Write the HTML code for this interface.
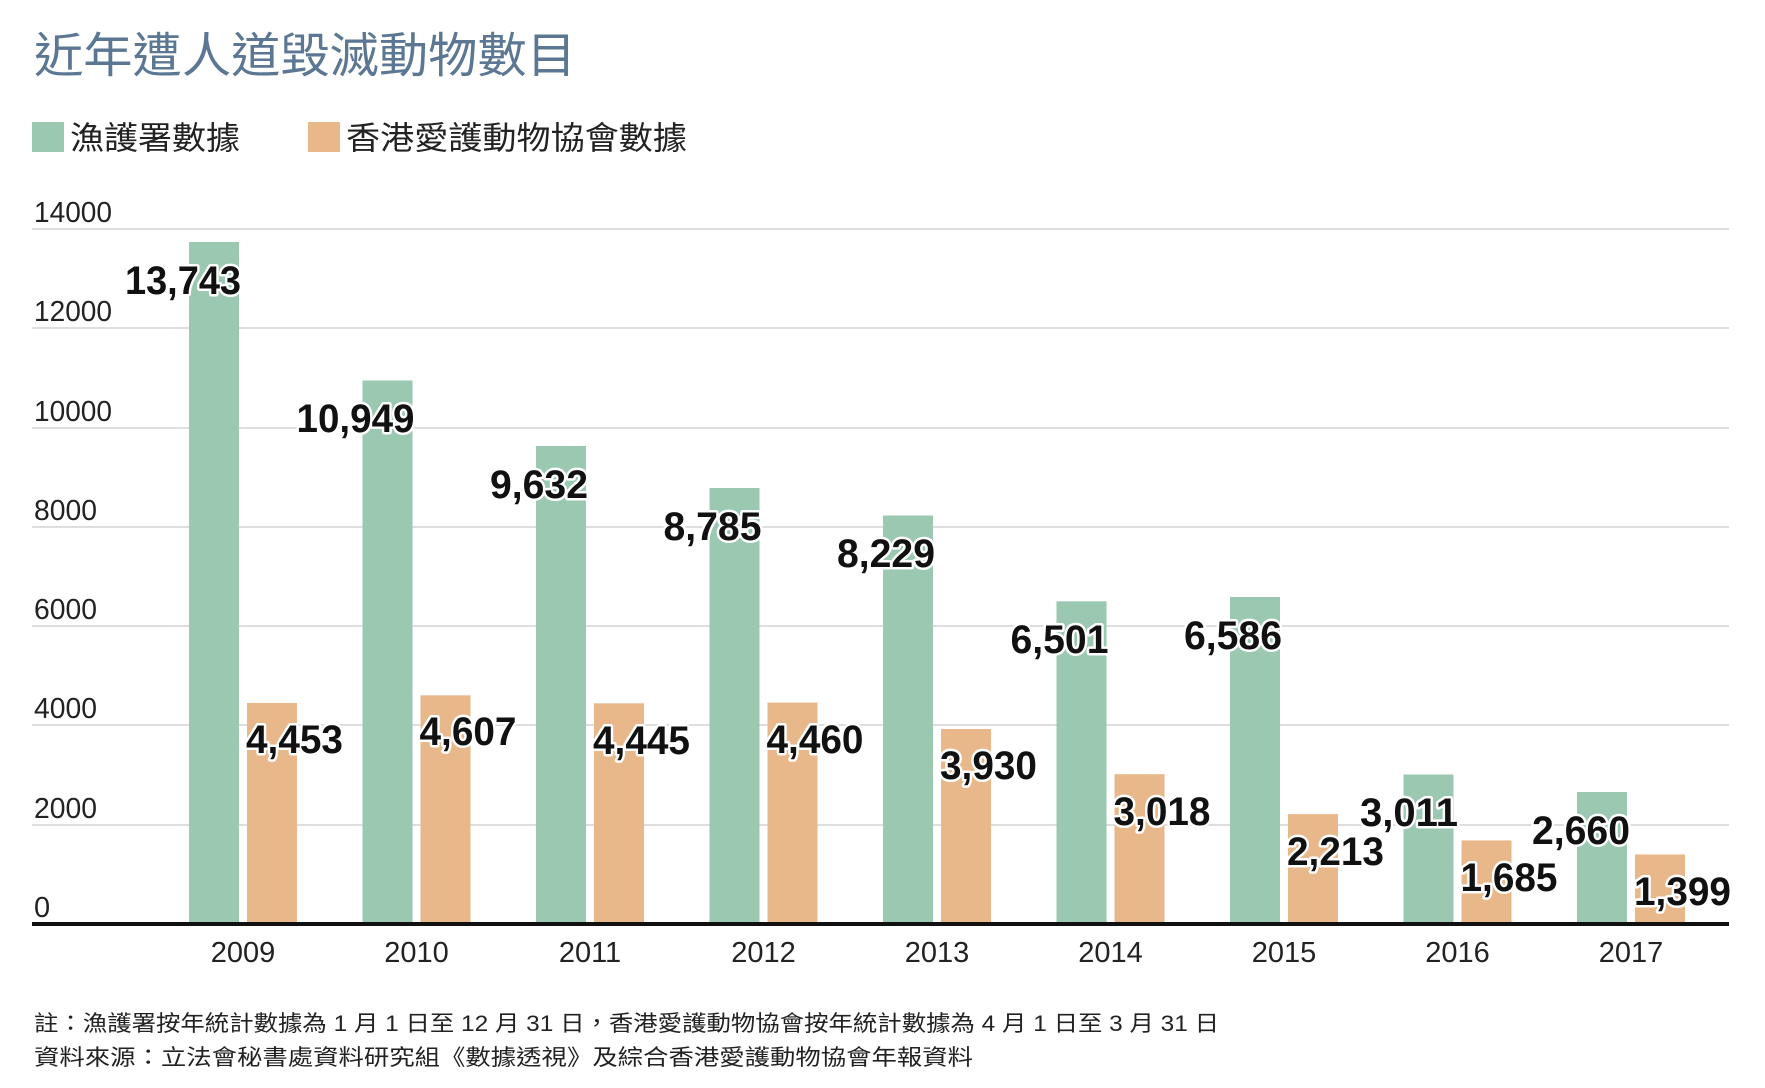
<!DOCTYPE html>
<html><head><meta charset="utf-8"><style>
html,body{margin:0;padding:0;background:#fff;}
svg{display:block;}
.cjk{font-family:"Liberation Sans","Noto Sans CJK TC",sans-serif;}
.num{font-family:"Liberation Sans Narrow","Liberation Sans",sans-serif;}
.lab{font-family:"Liberation Sans Narrow","Liberation Sans",sans-serif;font-weight:bold;font-size:40px;fill:#111;stroke:#fff;stroke-width:5px;paint-order:stroke;stroke-linejoin:round;}
</style></head><body>
<svg width="1765" height="1088" viewBox="0 0 1765 1088" xmlns="http://www.w3.org/2000/svg">
<text class="cjk" x="34" y="72" font-size="48" fill="#5b7793" textLength="542" lengthAdjust="spacingAndGlyphs">近年遭人道毀滅動物數目</text>
<rect x="32" y="122" width="32" height="30" fill="#9ac8b0"/>
<text class="cjk" x="70" y="149" font-size="32" fill="#222" textLength="170" lengthAdjust="spacingAndGlyphs">漁護署數據</text>
<rect x="308" y="122" width="32" height="30" fill="#e8b88a"/>
<text class="cjk" x="346" y="149" font-size="32" fill="#222" textLength="341" lengthAdjust="spacingAndGlyphs">香港愛護動物協會數據</text>
<g stroke="#dedede" stroke-width="2">
<line x1="32" x2="1729" y1="229" y2="229"/>
<line x1="32" x2="1729" y1="328" y2="328"/>
<line x1="32" x2="1729" y1="428" y2="428"/>
<line x1="32" x2="1729" y1="527" y2="527"/>
<line x1="32" x2="1729" y1="626" y2="626"/>
<line x1="32" x2="1729" y1="725" y2="725"/>
<line x1="32" x2="1729" y1="825" y2="825"/>
</g>
<g class="num" font-size="29" fill="#222">
<text x="34" y="222" textLength="78" lengthAdjust="spacingAndGlyphs">14000</text>
<text x="34" y="321" textLength="78" lengthAdjust="spacingAndGlyphs">12000</text>
<text x="34" y="421" textLength="78" lengthAdjust="spacingAndGlyphs">10000</text>
<text x="34" y="520" textLength="63" lengthAdjust="spacingAndGlyphs">8000</text>
<text x="34" y="619" textLength="63" lengthAdjust="spacingAndGlyphs">6000</text>
<text x="34" y="718" textLength="63" lengthAdjust="spacingAndGlyphs">4000</text>
<text x="34" y="818" textLength="63" lengthAdjust="spacingAndGlyphs">2000</text>
<text x="34" y="917">0</text>
</g>
<g fill="#9ac8b0">
<rect x="189" y="242" width="50" height="682"/>
<rect x="362.5" y="380.5" width="50" height="543.5"/>
<rect x="536" y="446" width="50" height="478"/>
<rect x="709.5" y="488" width="50" height="436"/>
<rect x="883" y="515.5" width="50" height="408.5"/>
<rect x="1056.5" y="601.3" width="50" height="322.7"/>
<rect x="1230" y="597" width="50" height="327"/>
<rect x="1403.5" y="774.5" width="50" height="149.5"/>
<rect x="1577" y="792" width="50" height="132"/>
</g>
<g fill="#e8b88a">
<rect x="247" y="703" width="50" height="221"/>
<rect x="420.5" y="695.3" width="50" height="228.7"/>
<rect x="594" y="703.3" width="50" height="220.7"/>
<rect x="767.5" y="702.6" width="50" height="221.4"/>
<rect x="941" y="729" width="50" height="195"/>
<rect x="1114.5" y="774.2" width="50" height="149.8"/>
<rect x="1288" y="814.1" width="50" height="109.9"/>
<rect x="1461.5" y="840.4" width="50" height="83.6"/>
<rect x="1635" y="854.5" width="50" height="69.5"/>
</g>
<line x1="32" x2="1729" y1="924" y2="924" stroke="#111" stroke-width="4"/>
<g class="lab">
<text x="241" y="294" text-anchor="end" textLength="116" lengthAdjust="spacingAndGlyphs">13,743</text>
<text x="414.5" y="432" text-anchor="end" textLength="118" lengthAdjust="spacingAndGlyphs">10,949</text>
<text x="588" y="498" text-anchor="end" textLength="98" lengthAdjust="spacingAndGlyphs">9,632</text>
<text x="761.5" y="540" text-anchor="end" textLength="98" lengthAdjust="spacingAndGlyphs">8,785</text>
<text x="935" y="567" text-anchor="end" textLength="98" lengthAdjust="spacingAndGlyphs">8,229</text>
<text x="1108.5" y="653" text-anchor="end" textLength="98" lengthAdjust="spacingAndGlyphs">6,501</text>
<text x="1282" y="649" text-anchor="end" textLength="98" lengthAdjust="spacingAndGlyphs">6,586</text>
<text x="1458" y="826" text-anchor="end" textLength="98" lengthAdjust="spacingAndGlyphs">3,011</text>
<text x="1630" y="844" text-anchor="end" textLength="98" lengthAdjust="spacingAndGlyphs">2,660</text>
<text x="246" y="753" textLength="97" lengthAdjust="spacingAndGlyphs">4,453</text>
<text x="419.5" y="745" textLength="97" lengthAdjust="spacingAndGlyphs">4,607</text>
<text x="593" y="754" textLength="97" lengthAdjust="spacingAndGlyphs">4,445</text>
<text x="766.5" y="753" textLength="97" lengthAdjust="spacingAndGlyphs">4,460</text>
<text x="940" y="779" textLength="97" lengthAdjust="spacingAndGlyphs">3,930</text>
<text x="1113.5" y="825" textLength="97" lengthAdjust="spacingAndGlyphs">3,018</text>
<text x="1287" y="865" textLength="97" lengthAdjust="spacingAndGlyphs">2,213</text>
<text x="1460.5" y="891" textLength="97" lengthAdjust="spacingAndGlyphs">1,685</text>
<text x="1634" y="905" textLength="97" lengthAdjust="spacingAndGlyphs">1,399</text>
</g>
<g class="num" font-size="29" fill="#222" text-anchor="middle">
<text x="243" y="962">2009</text>
<text x="416.5" y="962">2010</text>
<text x="590" y="962">2011</text>
<text x="763.5" y="962">2012</text>
<text x="937" y="962">2013</text>
<text x="1110.5" y="962">2014</text>
<text x="1284" y="962">2015</text>
<text x="1457.5" y="962">2016</text>
<text x="1631" y="962">2017</text>
</g>
<text class="cjk" x="34" y="1031" font-size="22" fill="#222" textLength="1185" lengthAdjust="spacingAndGlyphs">註：漁護署按年統計數據為 1 月 1 日至 12 月 31 日，香港愛護動物協會按年統計數據為 4 月 1 日至 3 月 31 日</text>
<text class="cjk" x="34" y="1065" font-size="22" fill="#222" textLength="939" lengthAdjust="spacingAndGlyphs">資料來源：立法會秘書處資料研究組《數據透視》及綜合香港愛護動物協會年報資料</text>
</svg>
</body></html>
